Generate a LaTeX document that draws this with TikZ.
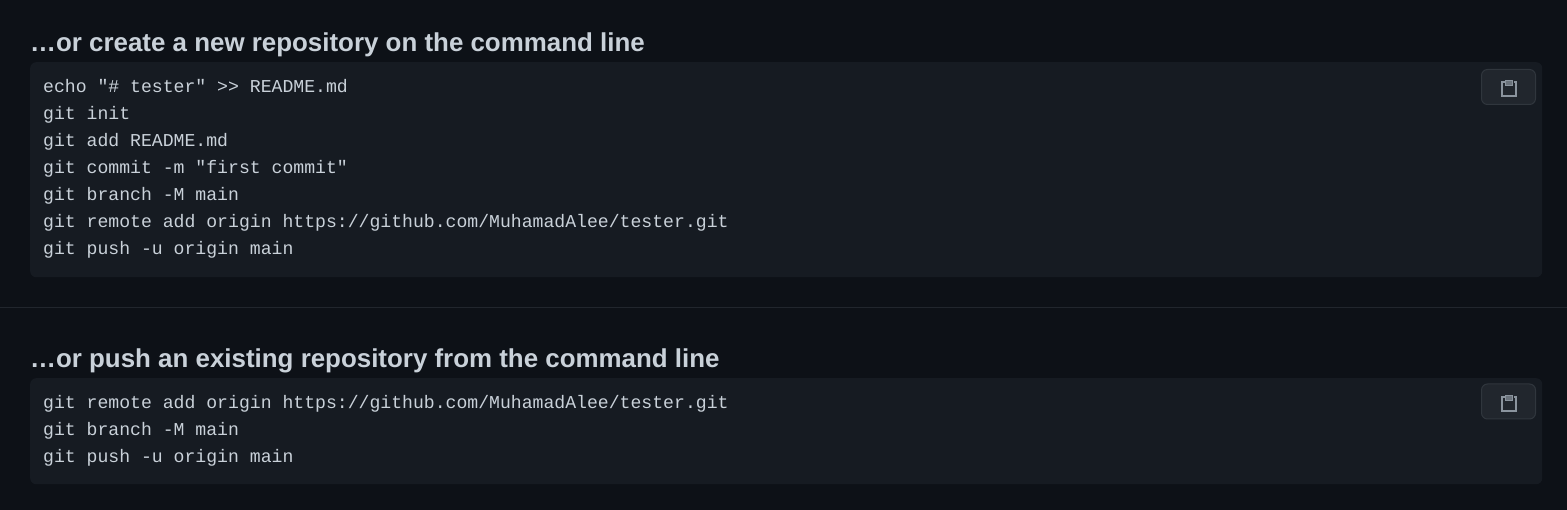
\documentclass[tikz,border=0pt]{standalone}
\usepackage{fontspec}
\usepackage{xcolor}
\setmainfont{Liberation Sans}
\setmonofont{Liberation Mono}
\usetikzlibrary{positioning}
\definecolor{pagebg}{HTML}{0D1117}
\definecolor{panelbg}{HTML}{161B22}
\definecolor{codetxt}{HTML}{C9D1D9}
\definecolor{btnbg}{HTML}{21262D}
\definecolor{btnline}{HTML}{30363D}
\definecolor{iconcol}{HTML}{8B949E}
\tikzset{
    headtxt/.style={
        anchor=base west,
        inner sep=0pt,
        text=codetxt,
        font=\fontsize{25.9}{30}\selectfont\bfseries
    },
    codepanel/.style={
        rectangle,
        rounded corners=6pt,
        fill=panelbg,
        anchor=north west,
        inner sep=0pt,
        minimum width=1512pt
    },
    codetext/.style={
        anchor=base west,
        inner sep=0pt,
        align=left,
        text=codetxt,
        font=\fontsize{18.13}{27}\selectfont\ttfamily
    },
    copybtn/.style={
        rectangle,
        rounded corners=6pt,
        draw=btnline,
        fill=btnbg,
        line width=1pt,
        minimum width=54pt,
        minimum height=35pt,
        inner sep=0pt
    },
    pics/clipicon/.style={
        code={
            \draw[iconcol, line width=1.6pt] (-4.5,-6.2) -- (-7,-6.2) -- (-7,8.2) -- (7,8.2) -- (7,-6.2) -- (4.5,-6.2);
            \draw[iconcol, fill=iconcol!70!btnbg, line width=1pt] (-3.4,-7.6) rectangle (3.4,-2.6);
        }
    }
}
\begin{document}
\begin{tikzpicture}[x=1pt, y=-1pt]
    \useasboundingbox (0,0) rectangle (1567,510);
    \fill[pagebg] (0,0) rectangle (1567,510);

    % first block
    \node[headtxt] (head1) at (30,51.7) {…or create a new repository on the command line};
    \node[codepanel, minimum height=215pt] (panel1) at (30,62) {};
    \node[codetext] (code1) at (43,254.7) {echo "\#{} tester" >> README.md\\git init\\git add README.md\\git commit -m "first commit"\\git branch -M main\\git remote add origin https://github.com/MuhamadAlee/tester.git\\git push -u origin main};
    \node[copybtn] (btn1) at (1508.5,87) {};
    \pic at (1509,88) {clipicon};

    % divider
    \coordinate (divl) at (0,307.5);
    \coordinate (divr) at (1567,307.5);
    \draw[btnbg, line width=1pt] (divl) -- (divr);

    % second block
    \node[headtxt] (head2) at (30,367.7) {…or push an existing repository from the command line};
    \node[codepanel, minimum height=106pt] (panel2) at (30,378) {};
    \node[codetext] (code2) at (43,462.7) {git remote add origin https://github.com/MuhamadAlee/tester.git\\git branch -M main\\git push -u origin main};
    \node[copybtn] (btn2) at (1508.5,401.5) {};
    \pic at (1509,403) {clipicon};
\end{tikzpicture}
\end{document}
